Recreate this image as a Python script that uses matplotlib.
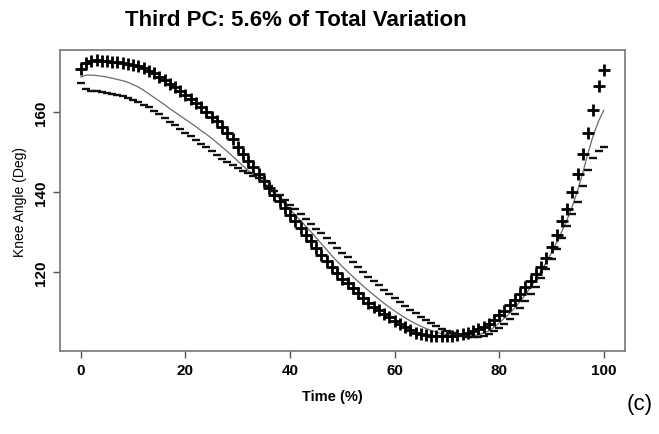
import matplotlib
matplotlib.use("Agg")
import matplotlib.pyplot as plt
import numpy as np

plt.rcParams['font.family'] = ['Liberation Sans', 'DejaVu Sans']

# percent of gait cycle
time_pct = list(range(0, 101))

# mean knee angle curve (solid line)
mean_curve = [
    168.8, 169.3, 169.3, 169.2, 169.0, 168.8, 168.5, 168.2, 167.9, 167.5,
    166.9, 166.3, 165.5, 164.6, 163.7, 162.8, 161.9, 160.9, 160.0, 159.1,
    158.2, 157.3, 156.4, 155.4, 154.5, 153.5, 152.4, 151.3, 150.2, 149.0,
    147.8, 146.6, 145.4, 144.3, 143.3, 142.3, 141.0, 139.7, 138.4, 137.0,
    135.7, 134.3, 132.9, 131.5, 130.1, 128.6, 127.1, 125.6, 124.1, 122.7,
    121.4, 120.1, 118.9, 117.7, 116.5, 115.4, 114.3, 113.2, 112.2, 111.2,
    110.3, 109.4, 108.6, 107.8, 107.1, 106.5, 105.9, 105.4, 105.0, 104.6,
    104.4, 104.2, 104.0, 104.0, 104.0, 104.1, 104.4, 104.8, 105.3, 106.2,
    107.3, 108.5, 109.7, 111.1, 112.7, 114.4, 116.2, 118.2, 120.3, 122.5,
    124.9, 127.5, 130.3, 133.2, 136.6, 140.5, 145.0, 149.9, 154.3, 157.8,
    160.5,
]

# mean + multiple of 3rd PC ("+" markers)
plus_curve = [
    170.7, 172.4, 172.9, 173.0, 172.9, 172.8, 172.6, 172.5, 172.3, 172.1,
    171.9, 171.5, 171.0, 170.4, 169.7, 168.9, 168.0, 167.1, 166.2, 165.2,
    164.2, 163.3, 162.3, 161.2, 160.0, 158.9, 157.7, 156.3, 154.9, 153.2,
    151.4, 149.6, 147.9, 146.2, 144.5, 142.8, 141.1, 139.4, 137.8, 136.1,
    134.4, 132.7, 131.0, 129.3, 127.7, 126.0, 124.4, 122.7, 121.2, 119.8,
    118.4, 117.2, 116.0, 114.7, 113.5, 112.4, 111.4, 110.5, 109.6, 108.7,
    107.9, 107.0, 106.2, 105.5, 104.9, 104.5, 104.2, 104.0, 104.0, 104.0,
    104.0, 104.1, 104.3, 104.6, 104.9, 105.3, 105.8, 106.4, 107.0, 108.1,
    109.2, 110.4, 111.7, 113.1, 114.5, 116.2, 117.9, 119.6, 121.4, 123.6,
    126.3, 129.4, 132.7, 135.7, 140.0, 144.6, 149.5, 154.8, 160.5, 166.5,
    170.5,
]

# mean - multiple of 3rd PC ("-" markers)
minus_curve = [
    167.2, 165.8, 165.4, 165.2, 165.0, 164.8, 164.6, 164.3, 164.0, 163.6,
    163.1, 162.5, 161.9, 161.2, 160.4, 159.5, 158.6, 157.6, 156.7, 155.8,
    154.9, 154.0, 153.0, 152.1, 151.2, 150.2, 149.3, 148.4, 147.6, 146.8,
    146.0, 145.3, 144.7, 144.1, 143.5, 142.8, 141.5, 140.4, 139.2, 138.0,
    136.9, 135.7, 134.5, 133.3, 132.1, 130.9, 129.7, 128.5, 127.3, 126.1,
    124.9, 123.7, 122.5, 121.3, 120.1, 118.9, 117.8, 116.7, 115.6, 114.5,
    113.5, 112.5, 111.5, 110.6, 109.7, 108.8, 108.0, 107.3, 106.6, 105.9,
    105.3, 104.8, 104.4, 104.0, 103.8, 103.7, 103.8, 104.0, 104.5, 105.2,
    106.0, 107.1, 108.3, 109.6, 111.1, 112.7, 114.5, 116.4, 118.5, 120.8,
    123.3, 125.9, 128.6, 131.5, 134.5, 137.6, 141.6, 145.6, 148.6, 150.3,
    151.4,
]

x_ticks = [0, 20, 40, 60, 80, 100]
y_ticks = [120, 140, 160]

fig = plt.figure(figsize=(6.59, 4.35), dpi=100)
ax = fig.add_axes([0.091, 0.191, 0.857, 0.692])

ax.plot(time_pct, mean_curve, color='#6a6a6a', lw=0.9)
ax.plot(time_pct, plus_curve, ls='none', marker='+', ms=8, mew=2.0, color='black')
ax.plot(time_pct, minus_curve, ls='none', marker='_', ms=5.5, mew=1.7, color='#111111')

ax.set_xlim(-4, 104)
ax.set_ylim(100.3, 175.6)
ax.set_xticks(x_ticks)
ax.set_yticks(y_ticks)
ax.tick_params(direction='out', length=5, width=1, colors='#555555',
               labelcolor='black', labelsize=11)
for lab in ax.get_xticklabels() + ax.get_yticklabels():
    lab.set_fontweight('bold')
for lab in ax.get_yticklabels():
    lab.set_rotation(90)
    lab.set_va('center')
for s in ax.spines.values():
    s.set_color('#777777')
    s.set_linewidth(1.2)

fig.text(0.449, 0.952, 'Third PC: 5.6% of Total Variation', ha='center', va='center',
         fontsize=16, fontweight='bold')
fig.text(0.505, 0.087, 'Time (%)', ha='center', va='center', fontsize=10.5, fontweight='bold')
fig.text(0.03, 0.535, 'Knee Angle (Deg)', ha='center', va='center', rotation=90, fontsize=10)
fig.text(0.97, 0.07, '(c)', ha='center', va='center', fontsize=16)

fig.savefig('out.png', dpi=100)
